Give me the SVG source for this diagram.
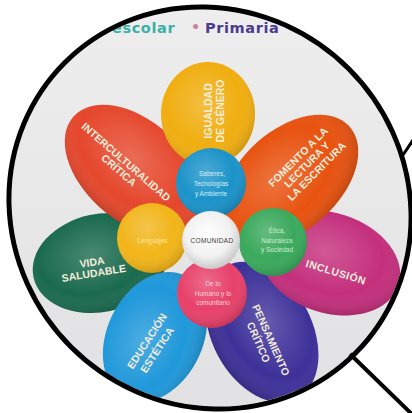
<svg xmlns="http://www.w3.org/2000/svg" width="412" height="413" viewBox="0 0 412 413">
<defs>
<clipPath id="lens"><ellipse cx="210" cy="208" rx="203" ry="194" transform="rotate(45 210 208)"/></clipPath>
<linearGradient id="bg" x1="0" y1="0" x2="0" y2="1"><stop offset="0" stop-color="#eeeeee"/><stop offset="1" stop-color="#e1e1e3"/></linearGradient>
<radialGradient id="shade" cx="0.45" cy="0.4" r="0.62"><stop offset="0" stop-color="#fff" stop-opacity="0.2"/><stop offset="0.65" stop-color="#fff" stop-opacity="0"/><stop offset="1" stop-color="#000" stop-opacity="0.16"/></radialGradient>
<radialGradient id="ball" cx="0.42" cy="0.35" r="0.65"><stop offset="0" stop-color="#fff" stop-opacity="0.22"/><stop offset="0.6" stop-color="#fff" stop-opacity="0"/><stop offset="1" stop-color="#000" stop-opacity="0.14"/></radialGradient>
<radialGradient id="whiteBall" cx="0.45" cy="0.4" r="0.6"><stop offset="0" stop-color="#ffffff"/><stop offset="0.65" stop-color="#f1f1f1"/><stop offset="1" stop-color="#c9c9c9"/></radialGradient>
</defs>
<style>
.pl{font-family:"Liberation Sans",Arial,sans-serif;font-weight:700;font-size:10.5px;fill:#f5eddc;text-anchor:middle}
.cl{font-family:"Liberation Sans",Arial,sans-serif;font-size:6.5px;text-anchor:middle}
.hd{font-family:"DejaVu Sans","Liberation Sans",sans-serif;font-weight:700;font-size:14.5px;letter-spacing:0.6px}
.sh{fill:url(#shade)}
.bl{fill:url(#ball)}
.rim{fill:none;stroke:#000;stroke-width:5}
.hl{stroke:#000;stroke-linecap:butt}
</style>
<rect width="412" height="413" fill="#ffffff"/>
<g clip-path="url(#lens)">
<rect width="412" height="413" fill="url(#bg)"/>
<g id="header">
<text class="hd" x="112" y="33" fill="#3bb0a6" letter-spacing="1.1">escolar</text>
<text class="hd" x="196" y="32" fill="#d27d9c" text-anchor="middle" font-size="9">•</text>
<text class="hd" x="205" y="33" fill="#4b3b8f">Primaria</text>
<text class="hd" x="290" y="32" fill="#cdb6c2" text-anchor="middle" font-size="9">•</text>
</g>
<g id="petal-pensamiento">
<ellipse cx="262" cy="332" rx="75" ry="50" transform="rotate(62 262 332)" fill="#3d3199"/>
<ellipse cx="262" cy="332" rx="75" ry="50" transform="rotate(62 262 332)" class="sh"/>
<text class="pl" transform="translate(271 340) rotate(66)"><tspan x="0" y="3.7">PENSAMIENTO</tspan><tspan x="-3" y="16">CRÍTICO</tspan></text>
</g>
<g id="petal-vida">
<ellipse cx="100" cy="263" rx="68" ry="49" transform="rotate(-12 100 263)" fill="#1a6a4f"/>
<ellipse cx="100" cy="263" rx="68" ry="49" transform="rotate(-12 100 263)" class="sh"/>
<text class="pl" transform="translate(92 262) rotate(-9)" font-size="11"><tspan x="0" y="3.8">VIDA</tspan><tspan x="0" y="15">SALUDABLE</tspan></text>
</g>
<g id="petal-inclusion">
<ellipse cx="330" cy="263" rx="72" ry="50" transform="rotate(18 330 263)" fill="#c42f7c"/>
<ellipse cx="330" cy="263" rx="72" ry="50" transform="rotate(18 330 263)" class="sh"/>
<text class="pl" transform="translate(336 272) rotate(17)" font-size="11" letter-spacing="0.5"><tspan x="0" y="3.8">INCLUSIÓN</tspan></text>
</g>
<g id="petal-interculturalidad">
<ellipse cx="133" cy="170" rx="80" ry="50" transform="rotate(42 133 170)" fill="#e5472c"/>
<ellipse cx="133" cy="170" rx="80" ry="50" transform="rotate(42 133 170)" class="sh"/>
<text class="pl" transform="translate(126 162) rotate(41)"><tspan x="0" y="3.7">INTERCULTURALIDAD</tspan><tspan x="0" y="14.5">CRÍTICA</tspan></text>
</g>
<g id="petal-fomento">
<ellipse cx="290" cy="180" rx="80" ry="50" transform="rotate(-42 290 180)" fill="#e8520f"/>
<ellipse cx="290" cy="180" rx="80" ry="50" transform="rotate(-42 290 180)" class="sh"/>
<text class="pl" transform="translate(298 157) rotate(-45)"><tspan x="0" y="3.7">FOMENTO A LA</tspan><tspan x="1" y="15.3">LECTURA Y</tspan><tspan x="3" y="27">LA ESCRITURA</tspan></text>
</g>
<g id="petal-educacion">
<ellipse cx="155" cy="337" rx="68" ry="48" transform="rotate(-65 155 337)" fill="#1f98da"/>
<ellipse cx="155" cy="337" rx="68" ry="48" transform="rotate(-65 155 337)" class="sh"/>
<text class="pl" transform="translate(147 341) rotate(-57)"><tspan x="0" y="3.7">EDUCACIÓN</tspan><tspan x="-2" y="17">ESTÉTICA</tspan></text>
</g>
<g id="petal-igualdad">
<ellipse cx="208" cy="114" rx="47" ry="52" fill="#f0ae10"/>
<ellipse cx="208" cy="114" rx="47" ry="52" class="sh"/>
<text class="pl" transform="translate(212 111) rotate(-90)" fill="#f7e6b0"><tspan x="0" y="0">IGUALDAD</tspan><tspan x="0" y="12">DE GÉNERO</tspan></text>
</g>
<g id="circle-saberes">
<circle cx="211" cy="183" r="35" fill="#1b93c9"/>
<circle cx="211" cy="183" r="35" class="bl"/>
<text class="cl" fill="#d3eef8"><tspan x="212" y="176">Saberes,</tspan><tspan x="211" y="185.8">Tecnologías</tspan><tspan x="211" y="195.5">y Ambiente</tspan></text>
</g>
<g id="circle-lenguajes">
<circle cx="152" cy="238" r="35" fill="#f2b519"/>
<circle cx="152" cy="238" r="35" class="bl"/>
<text class="cl" x="152.5" y="242.5" font-size="7" fill="#fbe6a3">Lenguajes</text>
</g>
<g id="circle-etica">
<circle cx="273" cy="242" r="34" fill="#3aa95c"/>
<circle cx="273" cy="242" r="34" class="bl"/>
<text class="cl" fill="#cdeccf"><tspan x="277" y="233">Ética,</tspan><tspan x="277" y="242.5">Naturaleza</tspan><tspan x="277" y="252">y Sociedad</tspan></text>
</g>
<g id="circle-humano">
<circle cx="212" cy="293" r="35" fill="#e8416a"/>
<circle cx="212" cy="293" r="35" class="bl"/>
<text class="cl" fill="#fbd3de"><tspan x="213" y="285.5">De lo</tspan><tspan x="213" y="295.5">Humano y lo</tspan><tspan x="213" y="304.8">comunitario</tspan></text>
</g>
<g id="circle-comunidad">
<circle cx="211" cy="240" r="29" fill="url(#whiteBall)"/>
<text class="cl" x="212" y="242.6" font-size="7.5" letter-spacing="0.3" fill="#3a3a3a">COMUNIDAD</text>
</g>
</g>
<g id="connectors">
<ellipse class="rim" cx="210" cy="208" rx="205.5" ry="196.5" transform="rotate(45 210 208)"/>
<line class="hl" x1="350" y1="354" x2="418" y2="420" stroke-width="4"/>
<line class="hl" x1="403" y1="155" x2="415" y2="137" stroke-width="3"/>
</g>
</svg>
